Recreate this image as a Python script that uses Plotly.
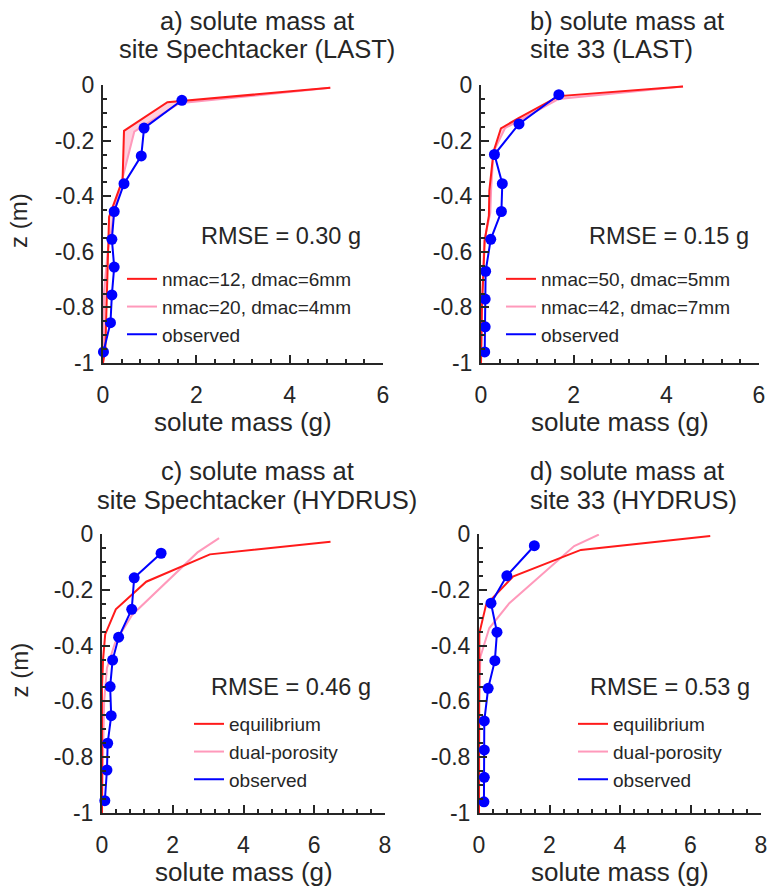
import plotly.graph_objects as go

# ---------------- data ----------------
title_line1 = ["a) solute mass at", "b) solute mass at",
               "c) solute mass at", "d) solute mass at"]
title_line2 = ["site Spechtacker (LAST)", "site 33 (LAST)",
               "site Spechtacker (HYDRUS)", "site 33 (HYDRUS)"]
rmse_labels = ["RMSE = 0.30 g", "RMSE = 0.15 g", "RMSE = 0.46 g", "RMSE = 0.53 g"]
model1_names = ["nmac=12, dmac=6mm", "nmac=50, dmac=5mm", "equilibrium", "equilibrium"]
model2_names = ["nmac=20, dmac=4mm", "nmac=42, dmac=7mm", "dual-porosity", "dual-porosity"]
obs_name = "observed"
x_title = "solute mass (g)"
y_title = "z (m)"

x_ticks_top = [0, 2, 4, 6]
x_ticks_bottom = [0, 2, 4, 6, 8]
y_ticks = [0, -0.2, -0.4, -0.6, -0.8, -1]
y_tick_labels = ["0", "-0.2", "-0.4", "-0.6", "-0.8", "-1"]

# panel a
obs_a_mass = [1.69, 0.88, 0.82, 0.45, 0.24, 0.19, 0.24, 0.19, 0.16, 0.01]
obs_a_z = [-0.055, -0.155, -0.255, -0.355, -0.455, -0.555, -0.655, -0.755, -0.855, -0.96]
m1_a_mass = [4.87, 1.38, 0.45, 0.42, 0.13, 0.10, 0.05, 0.0]
m1_a_z = [-0.01, -0.062, -0.165, -0.34, -0.475, -0.65, -0.95, -1.0]
m2_a_mass = [4.87, 1.63, 0.67, 0.43, 0.26, 0.10, 0.02, 0.0]
m2_a_z = [-0.01, -0.066, -0.168, -0.33, -0.44, -0.6, -0.75, -1.0]

# panel b
obs_b_mass = [1.68, 0.82, 0.29, 0.46, 0.44, 0.21, 0.10, 0.09, 0.09, 0.08]
obs_b_z = [-0.035, -0.14, -0.25, -0.355, -0.455, -0.555, -0.67, -0.77, -0.87, -0.96]
m1_b_mass = [4.36, 1.68, 0.80, 0.43, 0.27, 0.18, 0.17, 0.08, 0.02, 0.0]
m1_b_z = [-0.005, -0.04, -0.12, -0.156, -0.24, -0.38, -0.47, -0.56, -0.8, -1.0]
m2_b_mass = [4.36, 1.68, 0.52, 0.27, 0.22, 0.20, 0.07, 0.02, 0.0]
m2_b_z = [-0.005, -0.05, -0.155, -0.24, -0.37, -0.46, -0.56, -0.8, -1.0]

# panel c
obs_c_mass = [1.67, 0.91, 0.84, 0.47, 0.30, 0.23, 0.26, 0.16, 0.14, 0.08]
obs_c_z = [-0.069, -0.157, -0.27, -0.37, -0.452, -0.547, -0.651, -0.75, -0.846, -0.956]
m1_c_mass = [6.46, 3.05, 1.25, 0.39, 0.09, 0.03, 0.0, 0.0]
m1_c_z = [-0.028, -0.073, -0.171, -0.27, -0.36, -0.45, -0.55, -1.0]
m2_c_mass = [3.31, 2.70, 0.85, 0.37, 0.14, 0.06, 0.0]
m2_c_z = [-0.015, -0.066, -0.29, -0.39, -0.48, -0.6, -1.0]

# panel d
obs_d_mass = [1.57, 0.79, 0.34, 0.51, 0.45, 0.26, 0.15, 0.15, 0.15, 0.14]
obs_d_z = [-0.042, -0.15, -0.248, -0.352, -0.454, -0.553, -0.67, -0.774, -0.872, -0.96]
m1_d_mass = [6.56, 2.89, 0.96, 0.20, 0.01, 0.0]
m1_d_z = [-0.007, -0.057, -0.153, -0.254, -0.356, -1.0]
m2_d_mass = [3.40, 2.70, 0.86, 0.29, 0.04, 0.0, 0.0]
m2_d_z = [-0.002, -0.043, -0.248, -0.338, -0.44, -0.6, -1.0]

# ---------------- styling / layout ----------------
W, H = 770, 888
FONT = "Liberation Sans, Arial, sans-serif"
TXT = "#262626"
RED = "#ff1a1a"
PINK = "#ff99bb"
BLUE = "#0000ff"
FILL = "rgba(255,120,160,0.35)"


def px(x):
    return x / W


def py(y):
    return 1 - y / H


panels = [
    dict(obs=(obs_a_mass, obs_a_z), m1=(m1_a_mass, m1_a_z), m2=(m2_a_mass, m2_a_z), fill=True,
         xr=[0, 6], xt=x_ticks_top, dom_x=(103, 383), dom_y=(85, 363)),
    dict(obs=(obs_b_mass, obs_b_z), m1=(m1_b_mass, m1_b_z), m2=(m2_b_mass, m2_b_z), fill=True,
         xr=[0, 6], xt=x_ticks_top, dom_x=(481, 759), dom_y=(85, 363)),
    dict(obs=(obs_c_mass, obs_c_z), m1=(m1_c_mass, m1_c_z), m2=(m2_c_mass, m2_c_z), fill=False,
         xr=[0, 8], xt=x_ticks_bottom, dom_x=(102, 385), dom_y=(534, 813)),
    dict(obs=(obs_d_mass, obs_d_z), m1=(m1_d_mass, m1_d_z), m2=(m2_d_mass, m2_d_z), fill=False,
         xr=[0, 8], xt=x_ticks_bottom, dom_x=(479, 761), dom_y=(534, 813)),
]

# title placement: (x, anchor, y line1, y line2)
title_pos = [(257, "center", 21, 49), (528, "left", 21, 49),
             (257, "center", 471, 500), (528, "left", 471, 500)]
rmse_pos = [(281, 236), (669, 236), (291, 687), (670, 687)]
legend_pos = [(122, 260), (501, 260), (189, 705), (573, 705)]

fig = go.Figure()
annotations = []
layout = {}

for i, p in enumerate(panels):
    n = i + 1
    xa = "x" if n == 1 else f"x{n}"
    ya = "y" if n == 1 else f"y{n}"
    lg = "legend" if n == 1 else f"legend{n}"

    if p["fill"]:
        fig.add_trace(go.Scatter(
            x=p["m1"][0] + p["m2"][0][::-1], y=p["m1"][1] + p["m2"][1][::-1],
            mode="lines", fill="toself", fillcolor=FILL, line=dict(width=0),
            showlegend=False, hoverinfo="skip", xaxis=xa, yaxis=ya))
    fig.add_trace(go.Scatter(x=p["m2"][0], y=p["m2"][1], mode="lines",
                             line=dict(color=PINK, width=2), name=model2_names[i],
                             legend=lg, legendrank=2, xaxis=xa, yaxis=ya))
    fig.add_trace(go.Scatter(x=p["m1"][0], y=p["m1"][1], mode="lines",
                             line=dict(color=RED, width=2), name=model1_names[i],
                             legend=lg, legendrank=1, xaxis=xa, yaxis=ya))
    fig.add_trace(go.Scatter(x=p["obs"][0], y=p["obs"][1], mode="lines+markers",
                             line=dict(color=BLUE, width=2),
                             marker=dict(color=BLUE, size=11),
                             cliponaxis=False, showlegend=False,
                             xaxis=xa, yaxis=ya))
    fig.add_trace(go.Scatter(x=[None], y=[None], mode="lines",
                             line=dict(color=BLUE, width=2), name=obs_name,
                             legend=lg, legendrank=3, xaxis=xa, yaxis=ya))

    axis_common = dict(showline=True, linecolor=TXT, linewidth=2, showgrid=False,
                       zeroline=False, ticks="inside", tickcolor=TXT, tickwidth=2,
                       automargin=False,
                       tickfont=dict(family=FONT, size=23, color=TXT))
    layout["xaxis" if n == 1 else f"xaxis{n}"] = dict(
        axis_common, domain=[px(p["dom_x"][0]), px(p["dom_x"][1])], range=p["xr"],
        anchor=ya, tickvals=p["xt"], ticktext=[str(v) for v in p["xt"]], ticklen=8,
        ticklabelstandoff=10,
        minor=dict(ticks="inside", dtick=0.4, ticklen=4, tickcolor=TXT, tickwidth=2))
    layout["yaxis" if n == 1 else f"yaxis{n}"] = dict(
        axis_common, domain=[py(p["dom_y"][1]), py(p["dom_y"][0])], range=[-1, 0],
        anchor=xa, tickvals=y_ticks, ticktext=y_tick_labels, ticklen=8,
        ticklabelstandoff=2,
        minor=dict(ticks="inside", dtick=0.05, ticklen=4, tickcolor=TXT, tickwidth=2))

    lx, ly = legend_pos[i]
    layout[lg] = dict(x=px(lx), y=py(ly), xanchor="left", yanchor="top",
                      bgcolor="rgba(0,0,0,0)", borderwidth=0,
                      traceorder="normal",
                      font=dict(family=FONT, size=19, color=TXT))

    tx, tanchor, ty1, ty2 = title_pos[i]
    for txt, ty in ((title_line1[i], ty1), (title_line2[i], ty2)):
        annotations.append(dict(text=txt, x=px(tx), y=py(ty),
                                xref="paper", yref="paper", xanchor=tanchor,
                                yanchor="middle", showarrow=False,
                                font=dict(family=FONT, size=25.5, color=TXT)))
    rx, ry = rmse_pos[i]
    annotations.append(dict(text=rmse_labels[i], x=px(rx), y=py(ry), xref="paper",
                            yref="paper", xanchor="center", yanchor="middle",
                            showarrow=False, font=dict(family=FONT, size=23.5, color=TXT)))
    cx = (p["dom_x"][0] + p["dom_x"][1]) / 2
    annotations.append(dict(text=x_title, x=px(cx), y=py(p["dom_y"][1] + 59),
                            xref="paper", yref="paper", xanchor="center", yanchor="middle",
                            showarrow=False, font=dict(family=FONT, size=26, color=TXT)))
    if n in (1, 3):
        cy = (p["dom_y"][0] + p["dom_y"][1]) / 2 - 3
        annotations.append(dict(text=y_title, x=px(19), y=py(cy), xref="paper",
                                yref="paper", xanchor="center", yanchor="middle",
                                textangle=-90, showarrow=False,
                                font=dict(family=FONT, size=24, color=TXT)))

fig.update_layout(width=W, height=H,
                  margin=dict(l=0, r=0, t=0, b=0, autoexpand=False),
                  paper_bgcolor="white", plot_bgcolor="white",
                  annotations=annotations, **layout)

fig.write_html("out.html", config={"displayModeBar": False},
               post_script="document.body.style.margin='0';")
